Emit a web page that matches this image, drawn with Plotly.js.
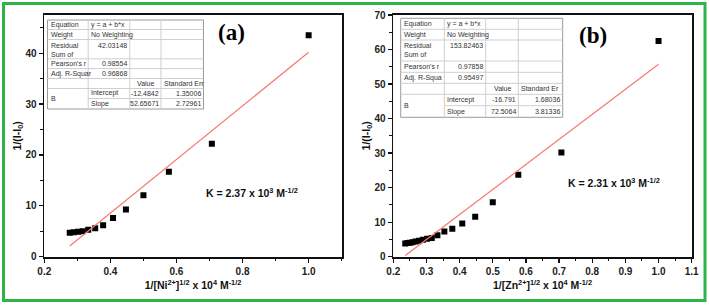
<!DOCTYPE html>
<html><head><meta charset="utf-8">
<script src="https://cdn.plot.ly/plotly-3.0.1.min.js"></script>
<style>html,body{margin:0;padding:0;background:#fff}#chart{width:709px;height:305px}</style>
</head><body><div id="chart"></div>
<script>
// ---- data ----
const niX = [1.0, 0.707, 0.577, 0.5, 0.447, 0.408, 0.378, 0.354, 0.333, 0.316, 0.302, 0.289, 0.277];
const niY = [43.5, 22.2, 16.7, 12.1, 9.3, 7.6, 6.2, 5.6, 5.3, 5.0, 4.9, 4.8, 4.7];
const znX = [1.0, 0.707, 0.577, 0.5, 0.447, 0.408, 0.378, 0.354, 0.333, 0.316, 0.302, 0.289, 0.277, 0.267, 0.258, 0.25, 0.243, 0.236];
const znY = [62.5, 30.2, 23.7, 15.8, 11.6, 9.6, 8.1, 7.3, 6.2, 5.4, 5.2, 4.9, 4.6, 4.4, 4.2, 4.05, 3.95, 3.85];
const niIntercept = -12.4842, niSlope = 52.65671;
const znIntercept = -16.791, znSlope = 72.5064;
const niXTitle = '1/[Ni<sup>2+</sup>]<sup>1/2</sup> x 10<sup>4</sup> M<sup>-1/2</sup>';
const znXTitle = '1/[Zn<sup>2+</sup>]<sup>1/2</sup> x 10<sup>4</sup> M<sup>-1/2</sup>';
const yTitle = '1/(I-I<sub>0</sub>)';
const niK = 'K = 2.37 x 10<sup>3</sup> M<sup>-1/2</sup>';
const znK = 'K = 2.31 x 10<sup>3</sup> M<sup>-1/2</sup>';
const niTable = [
  ['Equation', 'y = a + b*x', '', ''],
  ['Weight', 'No Weighting', '', ''],
  ['Residual<br>Sum of', '42.03148', '', ''],
  ["Pearson's r", '0.98554', '', ''],
  ['Adj. R-Squar', '0.96868', '', ''],
  ['', '', 'Value', 'Standard Err'],
  ['B', 'Intercept', '-12.4842', '1.35006'],
  ['', 'Slope', '52.65671', '2.72961']
];
const znTable = [
  ['Equation', 'y = a + b*x', '', ''],
  ['Weight', 'No Weighting', '', ''],
  ['Residual<br>Sum of', '153.82463', '', ''],
  ["Pearson's r", '0.97858', '', ''],
  ['Adj. R-Squa', '0.95497', '', ''],
  ['', '', 'Value', 'Standard Er'],
  ['B', 'Intercept', '-16.791', '1.68036'],
  ['', 'Slope', '72.5064', '3.81336']
];

// ---- geometry ----
const W = 709, H = 305;
const px = x => x / W, py = y => 1 - y / H;
const FONT = 'Liberation Sans, Arial, sans-serif';

function fitLine(xs, a, b) {
  const lo = Math.min(...xs), hi = Math.max(...xs);
  return {x: [lo, hi], y: [a + b * lo, a + b * hi]};
}
const niFit = fitLine(niX, niIntercept, niSlope);
const znFit = fitLine(znX, znIntercept, znSlope);

const traces = [
  {x: niX, y: niY, type: 'scatter', mode: 'markers', xaxis: 'x', yaxis: 'y',
   marker: {symbol: 'square', size: 6, color: '#000'}, hoverinfo: 'skip'},
  {x: niFit.x, y: niFit.y, type: 'scatter', mode: 'lines', xaxis: 'x', yaxis: 'y',
   line: {color: '#f47a72', width: 1.2}, hoverinfo: 'skip'},
  {x: znX, y: znY, type: 'scatter', mode: 'markers', xaxis: 'x2', yaxis: 'y2',
   marker: {symbol: 'square', size: 6, color: '#000'}, hoverinfo: 'skip'},
  {x: znFit.x, y: znFit.y, type: 'scatter', mode: 'lines', xaxis: 'x2', yaxis: 'y2',
   line: {color: '#f47a72', width: 1.2}, hoverinfo: 'skip'}
];

function axis(domain, range, dtick, minor, fmt, anchor, title, standoff) {
  return {
    domain, range, dtick, tick0: 0, tickformat: fmt, anchor,
    showline: true, linewidth: 1.8, linecolor: '#111', mirror: true,
    ticks: 'outside', ticklen: 4, tickwidth: 1.3, tickcolor: '#111',
    minor: {dtick: minor, ticks: 'outside', ticklen: 2.5, tickwidth: 1, tickcolor: '#111'},
    showgrid: false, zeroline: false, fixedrange: true,
    tickfont: {family: FONT, size: 10, color: '#222', weight: 'bold'},
    title: {text: title, font: {family: FONT, size: 10.5, color: '#111', weight: 'bold'}, standoff}
  };
}

const yTop = py(15), yBot = py(256.7);
const layout = {
  width: W, height: H, margin: {l: 0, r: 0, t: 0, b: 0},
  paper_bgcolor: '#fff', plot_bgcolor: '#fff', showlegend: false,
  xaxis: axis([px(44.3), px(341.7)], [0.2, 1.1], 0.2, 0.1, '.1f', 'y', niXTitle, 6),
  yaxis: axis([yBot, yTop], [0, 47.5], 10, 5, 'd', 'x', yTitle, 2),
  xaxis2: axis([px(393.3), px(691.7)], [0.2, 1.1], 0.1, 0.05, '.1f', 'y2', znXTitle, 6),
  yaxis2: axis([yBot, yTop], [0, 70], 10, 5, 'd', 'x2', yTitle, 2),
  shapes: [], annotations: []
};

// green frame
layout.shapes.push({type: 'rect', xref: 'paper', yref: 'paper', x0: px(3.5), x1: px(705), y0: py(300.5), y1: py(3.5),
  line: {color: '#2db34a', width: 3}, fillcolor: 'rgba(0,0,0,0)', layer: 'above'});

function addTable(tab, cols, rows) {
  layout.shapes.push({type: 'rect', xref: 'paper', yref: 'paper', x0: px(cols[0]), x1: px(cols[4]),
    y0: py(rows[8]), y1: py(rows[0]), line: {color: '#9a9a9a', width: 1}, fillcolor: '#fff', layer: 'above'});
  for (let r = 1; r < 8; r++) {
    const x0 = (r === 7) ? cols[1] : cols[0];
    layout.shapes.push({type: 'line', xref: 'paper', yref: 'paper', x0: px(x0), x1: px(cols[4]),
      y0: py(rows[r]), y1: py(rows[r]), line: {color: '#cfcfcf', width: 1}, layer: 'above'});
  }
  for (let c = 1; c < 4; c++) {
    layout.shapes.push({type: 'line', xref: 'paper', yref: 'paper', x0: px(cols[c]), x1: px(cols[c]),
      y0: py(rows[8]), y1: py(rows[0]), line: {color: '#cfcfcf', width: 1}, layer: 'above'});
  }
  const f = {family: FONT, size: 7, color: '#333'};
  tab.forEach((row, r) => {
    row.forEach((txt, c) => {
      if (!txt) return;
      let yc = (rows[r] + rows[r + 1]) / 2, yanchor = 'middle';
      if (r === 2) { yc = rows[r] + 1; yanchor = 'top'; }
      if (r === 6 && c === 0) yc = rows[7];
      const numeric = /^-?\d/.test(txt);
      let x, xanchor;
      if (numeric || (r === 5 && c >= 2)) {
        if (r === 5 && c === 2) { x = (cols[c] + cols[c + 1]) / 2; xanchor = 'center'; }
        else { x = cols[c + 1] - 1.5; xanchor = 'right'; }
        if (r === 5 && c === 3) { x = cols[c] + 2; xanchor = 'left'; }
      } else { x = cols[c] + 2; xanchor = 'left'; }
      layout.annotations.push({xref: 'paper', yref: 'paper', x: px(x), y: py(yc), xanchor, yanchor,
        text: txt, showarrow: false, font: f, align: 'left', borderpad: 0});
    });
  });
}
addTable(niTable, [47.5, 88.2, 129.8, 161, 203.5], [20, 29.5, 39.5, 58.8, 68.6, 78.5, 88.5, 98.5, 109]);
addTable(znTable, [400.7, 444.3, 485.7, 518.3, 562.7], [18.3, 29.3, 40, 61, 72.3, 83.3, 94.3, 105.7, 117.3]);

// panel labels and constants
const serif = {family: 'Liberation Serif, Times New Roman, serif', size: 23, color: '#000', weight: 'bold'};
const kFont = {family: FONT, size: 10.5, color: '#111', weight: 'bold'};
layout.annotations.push(
  {xref: 'paper', yref: 'paper', x: px(231.5), y: py(33), xanchor: 'center', yanchor: 'middle', text: '(a)', showarrow: false, font: serif},
  {xref: 'paper', yref: 'paper', x: px(592.5), y: py(35), xanchor: 'center', yanchor: 'middle', text: '(b)', showarrow: false, font: serif},
  {xref: 'paper', yref: 'paper', x: px(251.5), y: py(192), xanchor: 'center', yanchor: 'middle', text: niK, showarrow: false, font: kFont},
  {xref: 'paper', yref: 'paper', x: px(614), y: py(182), xanchor: 'center', yanchor: 'middle', text: znK, showarrow: false, font: kFont}
);

Plotly.newPlot('chart', traces, layout, {displayModeBar: false, staticPlot: true});
</script></body></html>
